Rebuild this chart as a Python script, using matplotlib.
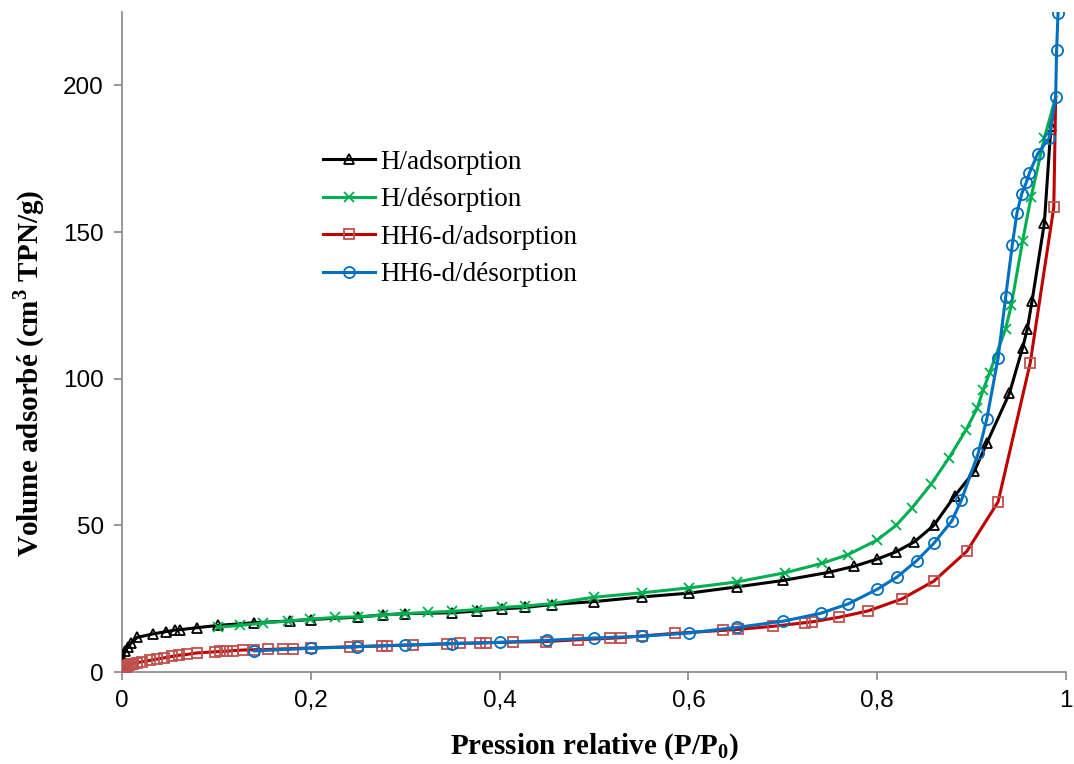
import matplotlib
matplotlib.use("Agg")
import matplotlib.pyplot as plt

# ---------------- data ----------------
h_ads_x = [0.001, 0.003, 0.006, 0.01, 0.016, 0.033, 0.047, 0.056, 0.061, 0.079, 0.102, 0.14, 0.178, 0.2,
           0.25, 0.276, 0.30, 0.35, 0.376, 0.402, 0.427, 0.455, 0.50, 0.551, 0.601, 0.651, 0.70, 0.749,
           0.775, 0.80, 0.82, 0.839, 0.86, 0.882, 0.903, 0.916, 0.94, 0.954, 0.959, 0.964, 0.977, 0.984, 0.989]
h_ads_y = [4.5, 7, 8.5, 10, 11.8, 13, 13.8, 14.3, 14.4, 15.1, 15.9, 16.8, 17.4, 17.9,
           18.7, 19.5, 19.9, 20.2, 20.8, 21.5, 22, 23, 24, 25.6, 26.9, 29, 31.2, 34,
           36, 38.5, 41, 44.3, 50, 60, 68.5, 78, 95, 110.5, 117, 126.5, 153, 186, 196]

h_des_x = [0.989, 0.977, 0.963, 0.954, 0.942, 0.936, 0.919, 0.912, 0.906, 0.894, 0.876, 0.857, 0.837,
           0.82, 0.80, 0.769, 0.741, 0.702, 0.651, 0.601, 0.551, 0.50, 0.455, 0.427, 0.402, 0.376,
           0.35, 0.324, 0.30, 0.276, 0.25, 0.226, 0.199, 0.176, 0.149, 0.125, 0.102]
h_des_y = [196, 182, 162, 147, 125, 117, 102, 96, 90, 82.5, 73, 64, 56,
           50, 45, 40, 37, 33.8, 30.7, 28.7, 27, 25.5, 23.3, 22.5, 22, 21.3,
           20.7, 20.3, 19.9, 19.4, 18.8, 18.6, 18, 17.4, 16.7, 15.9, 15.3]

hh6_ads_x = [0.0005, 0.001, 0.0015, 0.002, 0.003, 0.004, 0.005, 0.007, 0.009, 0.012, 0.016, 0.021, 0.03,
             0.037, 0.044, 0.053, 0.06, 0.069, 0.079, 0.099, 0.104, 0.111, 0.118, 0.128, 0.14, 0.155,
             0.171, 0.181, 0.2, 0.242, 0.25, 0.275, 0.281, 0.308, 0.344, 0.358, 0.379, 0.386, 0.414,
             0.449, 0.483, 0.517, 0.529, 0.551, 0.586, 0.637, 0.652, 0.69, 0.723, 0.731, 0.76, 0.79,
             0.826, 0.86, 0.895, 0.928, 0.962, 0.987, 0.989]
hh6_ads_y = [0.3, 0.6, 0.9, 1.2, 1.5, 1.8, 2.0, 2.3, 2.6, 2.9, 3.2, 3.5, 4.0,
             4.4, 4.8, 5.3, 5.7, 6.0, 6.5, 6.9, 7.0, 7.1, 7.3, 7.5, 7.6, 7.7,
             7.9, 8.0, 8.2, 8.6, 8.7, 8.9, 9.0, 9.2, 9.6, 9.8, 9.9, 10.0, 10.2,
             10.4, 11.0, 11.5, 11.7, 12.3, 13.2, 14.2, 14.5, 15.6, 16.8, 17.1, 18.7, 20.8,
             24.9, 31, 41.2, 58, 105.3, 158.4, 196]

hh6_des_x = [0.9915, 0.990, 0.989, 0.982, 0.970, 0.961, 0.958, 0.953, 0.948, 0.943, 0.936, 0.928, 0.916,
             0.907, 0.889, 0.879, 0.86, 0.842, 0.821, 0.80, 0.769, 0.74, 0.70, 0.651, 0.601, 0.551,
             0.50, 0.45, 0.40, 0.35, 0.30, 0.249, 0.2, 0.14]
hh6_des_y = [224.6, 212, 196, 182, 176.7, 170, 167, 163, 156.5, 145.5, 127.8, 107, 86.2,
             74.6, 58.5, 51.5, 43.9, 38, 32.4, 28.2, 23.2, 20, 17.3, 15.2, 13.3, 12.2,
             11.6, 10.8, 10.1, 9.7, 9.2, 8.6, 8.1, 7.2]

labels = ["H/adsorption", "H/désorption", "HH6-d/adsorption", "HH6-d/désorption"]
x_ticks = [0, 0.2, 0.4, 0.6, 0.8, 1.0]
x_ticklabels = ["0", "0,2", "0,4", "0,6", "0,8", "1"]
y_ticks = [0, 50, 100, 150, 200]

# ---------------- style ----------------
plt.rcParams['mathtext.fontset'] = 'custom'
plt.rcParams['mathtext.rm'] = 'Liberation Serif'
plt.rcParams['mathtext.bf'] = 'Liberation Serif:bold'

fig = plt.figure(figsize=(10.74, 7.64), dpi=100)
ax = fig.add_axes([0.1136, 0.1204, 0.879, 0.8639])

lw = 2.2
ax.plot(h_ads_x, h_ads_y, color='black', lw=lw, marker='^', ms=7.5, mfc='none', mec='black', mew=1.3,
        markevery=slice(0, len(h_ads_x) - 1), label=labels[0], zorder=3)
ax.plot(h_des_x, h_des_y, color='#00B050', lw=lw, marker='x', ms=7.5, mec='#00B050', mew=1.3,
        markevery=slice(1, None), label=labels[1], zorder=4)
ax.plot(hh6_ads_x, hh6_ads_y, color='#C00000', lw=lw, marker='s', ms=7.5, mfc='none', mec='#C0504D', mew=1.3,
        markevery=slice(0, len(hh6_ads_x) - 1), label=labels[2], zorder=5)
ax.plot(hh6_des_x, hh6_des_y, color='#0070C0', lw=lw, marker='o', ms=8, mfc='none', mec='#0070C0', mew=1.3,
        label=labels[3], zorder=6)

ax.set_xlim(0, 1)
ax.set_ylim(0, 225)
ax.set_xticks(x_ticks)
ax.set_xticklabels(x_ticklabels)
ax.set_yticks(y_ticks)

for s in ['top', 'right']:
    ax.spines[s].set_visible(False)
for s in ['left', 'bottom']:
    ax.spines[s].set_color('#868686')
    ax.spines[s].set_linewidth(1.2)
ax.tick_params(axis='both', direction='out', length=6, width=1.2, color='#868686',
               labelsize=17.5, labelcolor='black', pad=7)
for t in ax.get_xticklabels() + ax.get_yticklabels():
    t.set_fontfamily('Liberation Sans')

ax.set_xlabel("Pression relative (P/P$_\\mathbf{0}$)", fontfamily='Liberation Serif', fontweight='bold',
              fontsize=21, labelpad=14)
ax.set_ylabel("Volume adsorbé (cm$^\\mathbf{3}$ TPN/g)", fontfamily='Liberation Serif', fontweight='bold',
              fontsize=21, labelpad=12)
ax.yaxis.label.set_y(0.453)

leg = ax.legend(loc='upper left', bbox_to_anchor=(0.291, 0.818), bbox_transform=fig.transFigure,
                frameon=False, prop={'family': 'Liberation Serif', 'size': 19.5},
                handlelength=1.92, handletextpad=0.18, labelspacing=0.46, borderaxespad=0)

fig.savefig("out.png", dpi=100)
